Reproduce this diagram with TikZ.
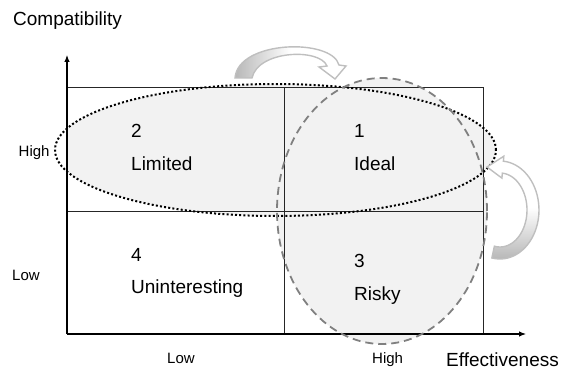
\documentclass[tikz,border=0pt]{standalone}
\usepackage{fontspec}
\setmainfont{Liberation Sans}
\usetikzlibrary{arrows.meta}
\begin{document}
\begin{tikzpicture}[x=1pt,y=-1pt,
  big/.style={font=\fontsize{19}{22}\selectfont, inner sep=0pt, anchor=base west},
  small/.style={font=\fontsize{15}{18}\selectfont, inner sep=0pt, anchor=base west},
  gridline/.style={line width=1pt, black!85},
  axisline/.style={line width=1.1pt, -{Latex[length=7pt,width=5.5pt]}},
  dotring/.style={line width=2pt, dash pattern=on 2pt off 2.2pt},
  dashring/.style={line width=1.8pt, black!50, dash pattern=on 8pt off 5pt},
  ringfill/.style={fill=black!5},
  curvarrow/.style={draw=black!25, line width=1.4pt, line join=miter}
]
\useasboundingbox (0,0) rectangle (563,369);

% coordinates
\coordinate (O) at (67,334);
\coordinate (ytip) at (67,55);
\coordinate (xtip) at (526,334);
\coordinate (TL) at (67,88);
\coordinate (TR) at (483,88);
\coordinate (BR) at (483,334);
\coordinate (TM) at (284,88);
\coordinate (BM) at (284,334);
\coordinate (ML) at (67,211);
\coordinate (MR) at (483,211);
\coordinate (C2) at (275.5,150);
\coordinate (C3) at (382,211);

% fills
\begin{scope}
  \clip (67,0) rectangle (563,369);
  \fill[ringfill] (C2) ellipse [x radius=220.5pt, y radius=66pt];
\end{scope}
\fill[ringfill] (C3) ellipse [x radius=105pt, y radius=133pt];

% grid
\draw[gridline] (TL) -- (TR) -- (BR);
\draw[gridline] (ML) -- (MR);
\draw[gridline] (TM) -- (BM);

% axes
\draw[axisline] (O) -- (ytip);
\draw[axisline] (O) -- (xtip);

% rings
\draw[dotring] (C2) ellipse [x radius=220.5pt, y radius=66pt];
\draw[dashring] (C3) ellipse [x radius=105pt, y radius=133pt];

% top curved arrow
\path[curvarrow, left color=black!28, right color=white, middle color=white]
  (235,78) .. controls (238,40) and (332,38) .. (339,65)
  -- (346,66) -- (335,79) -- (319,67) -- (327,66)
  .. controls (320,48) and (258,50) .. (252,78)
  -- cycle;

% right curved arrow
\path[curvarrow, top color=white, bottom color=black!28, middle color=white]
  plot[domain=0:187, samples=40] ({500+39*cos(102-\x)}, {210+49*sin(102-\x)})
  -- (503.8,156.2) -- (487,167) -- (501.9,178.1)
  -- plot[domain=0:187, samples=40] ({500+27*cos(-85+\x)}, {210+37*sin(-85+\x)})
  -- cycle;

% axis titles
\node[big] (ytitle) at (13,26) {Compatibility};
\node[big] (xtitle) at (446,366) {Effectiveness};

% tick labels
\node[small] (yhigh) at (18.5,156.5) {High};
\node[small] (ylow) at (12,280) {Low};
\node[small] (xlow) at (167,363) {Low};
\node[small] (xhigh) at (372,363) {High};

% quadrant labels
\node[big] (n2) at (131,138) {2};
\node[big] (t2) at (131,171) {Limited};
\node[big] (n1) at (354,137) {1};
\node[big] (t1) at (354,171) {Ideal};
\node[big] (n4) at (131,261) {4};
\node[big] (t4) at (131,293) {Uninteresting};
\node[big] (n3) at (354,267) {3};
\node[big] (t3) at (354,300) {Risky};
\end{tikzpicture}
\end{document}
